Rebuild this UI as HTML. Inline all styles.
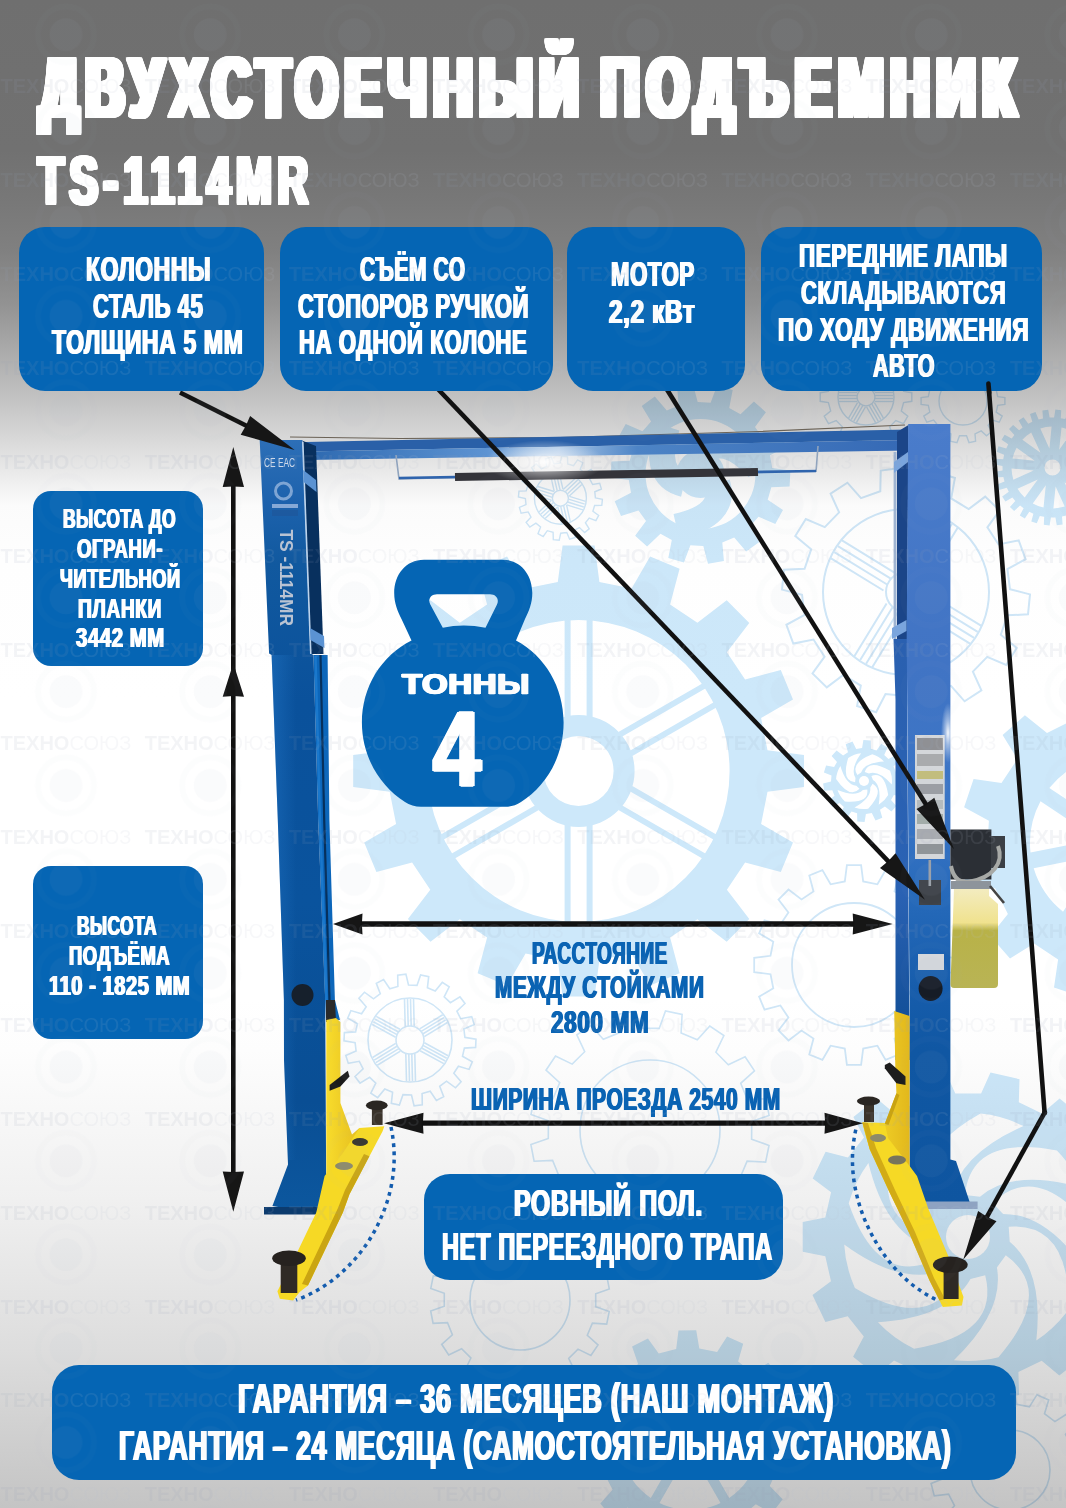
<!DOCTYPE html>
<html lang="ru"><head><meta charset="utf-8"><title>Двухстоечный подъемник TS-1114MR</title>
<style>
html,body{margin:0;padding:0;background:#fff}
body{width:1066px;height:1508px;overflow:hidden;position:relative;font-family:"Liberation Sans",sans-serif}
#pg{position:absolute;left:0;top:0;width:1066px;height:1508px;overflow:hidden;
background:linear-gradient(to bottom,#6f6f6f 0px,#717171 150px,#787878 203px,#808080 250px,#929292 303px,#aaaaaa 350px,#c5c5c5 403px,#dddddd 448px,#fbfbfb 505px,#fefefe 560px,#ffffff 700px,#ffffff 1000px,#fdfdfd 1050px,#f0f0f0 1200px,#dddddd 1350px,#c4c4c4 1508px)}
svg{position:absolute;left:0;top:0}
.bx{position:absolute;background:#0565b4}
.t{position:absolute;white-space:nowrap;line-height:1;font-weight:bold;transform-origin:0 0;paint-order:stroke fill;-webkit-text-stroke-linejoin:miter}
.wm{position:absolute;left:0;top:0;width:1066px;height:1508px;overflow:hidden;font-size:20px;color:#b9c1d0;opacity:.11}
.wm b{color:#97a2b8}
.wm span{position:absolute;white-space:nowrap;line-height:1;font-weight:normal}
</style></head><body><div id="pg">
<svg width="1066" height="1508" viewBox="0 0 1066 1508" style="mix-blend-mode:multiply"><g fill="none" stroke="#cfe6f7" stroke-width="1.4"><path d="M903.6 391.4 L911.8 392.7 L911.8 401.3 L903.6 402.6 L901.3 411.0 L907.8 416.1 L903.5 423.6 L895.8 420.6 L889.6 426.8 L892.6 434.5 L885.1 438.8 L880.0 432.3 L871.6 434.6 L870.3 442.8 L861.7 442.8 L860.4 434.6 L852.0 432.3 L846.9 438.8 L839.4 434.5 L842.4 426.8 L836.2 420.6 L828.5 423.6 L824.2 416.1 L830.7 411.0 L828.4 402.6 L820.2 401.3 L820.2 392.7 L828.4 391.4 L830.7 383.0 L824.2 377.9 L828.5 370.4 L836.2 373.4 L842.4 367.2 L839.4 359.5 L846.9 355.2 L852.0 361.7 L860.4 359.4 L861.7 351.2 L870.3 351.2 L871.6 359.4 L880.0 361.7 L885.1 355.2 L892.6 359.5 L889.6 367.2 L895.8 373.4 L903.5 370.4 L907.8 377.9 L901.3 383.0ZM838.0 397.0a28.0 28.0 0 1 0 56.0 0a28.0 28.0 0 1 0 -56.0 0ZM857.0 397.0a9.0 9.0 0 1 0 18.0 0a9.0 9.0 0 1 0 -18.0 0Z"/><path d="M875.0 392.5L893.0 392.5"/><path d="M875.0 395.5L893.0 395.5"/><path d="M875.0 398.5L893.0 398.5"/><path d="M875.0 401.5L893.0 401.5"/><path d="M874.4 402.5L883.4 418.1"/><path d="M871.8 404.0L880.8 419.6"/><path d="M869.2 405.5L878.2 421.1"/><path d="M866.6 407.0L875.6 422.6"/><path d="M865.4 407.0L856.4 422.6"/><path d="M862.8 405.5L853.8 421.1"/><path d="M860.2 404.0L851.2 419.6"/><path d="M857.6 402.5L848.6 418.1"/><path d="M857.0 401.5L839.0 401.5"/><path d="M857.0 398.5L839.0 398.5"/><path d="M857.0 395.5L839.0 395.5"/><path d="M857.0 392.5L839.0 392.5"/><path d="M857.6 391.5L848.6 375.9"/><path d="M860.2 390.0L851.2 374.4"/><path d="M862.8 388.5L853.8 372.9"/><path d="M865.4 387.0L856.4 371.4"/><path d="M866.6 387.0L875.6 371.4"/><path d="M869.2 388.5L878.2 372.9"/><path d="M871.8 390.0L880.8 374.4"/><path d="M874.4 391.5L883.4 375.9"/></g><path d="M997.7 396.6 L1004.9 397.6 L1004.9 404.4 L997.7 405.4 L996.2 412.1 L1002.2 416.1 L999.2 422.2 L992.4 420.0 L988.1 425.4 L991.8 431.6 L986.5 435.8 L981.2 430.9 L975.0 433.9 L975.6 441.1 L969.0 442.6 L966.5 435.8 L959.5 435.8 L957.0 442.6 L950.4 441.1 L951.0 433.9 L944.8 430.9 L939.5 435.8 L934.2 431.6 L937.9 425.4 L933.6 420.0 L926.8 422.2 L923.8 416.1 L929.8 412.1 L928.3 405.4 L921.1 404.4 L921.1 397.6 L928.3 396.6 L929.8 389.9 L923.8 385.9 L926.8 379.8 L933.6 382.0 L937.9 376.6 L934.2 370.4 L939.5 366.2 L944.8 371.1 L951.0 368.1 L950.4 360.9 L957.0 359.4 L959.5 366.2 L966.5 366.2 L969.0 359.4 L975.6 360.9 L975.0 368.1 L981.2 371.1 L986.5 366.2 L991.8 370.4 L988.1 376.6 L992.4 382.0 L999.2 379.8 L1002.2 385.9 L996.2 389.9ZM939.0 401.0a24.0 24.0 0 1 0 48.0 0a24.0 24.0 0 1 0 -48.0 0Z" fill="none" stroke="#cfe6f7" stroke-width="1.4"/><g fill="none" stroke="#cfe6f7" stroke-width="1.4"><path d="M595.4 497.9 L602.4 499.4 L601.8 505.3 L594.6 505.5 L592.9 511.3 L598.7 515.4 L595.9 520.6 L589.2 518.0 L585.4 522.7 L589.2 528.8 L584.6 532.5 L579.4 527.6 L574.1 530.4 L575.3 537.5 L569.6 539.2 L566.8 532.6 L560.7 533.2 L559.2 540.2 L553.3 539.6 L553.1 532.4 L547.3 530.7 L543.2 536.5 L538.0 533.7 L540.6 527.0 L535.9 523.2 L529.8 527.0 L526.1 522.4 L531.0 517.2 L528.2 511.9 L521.1 513.1 L519.4 507.4 L526.0 504.6 L525.4 498.5 L518.4 497.0 L519.0 491.1 L526.2 490.9 L527.9 485.1 L522.1 481.0 L524.9 475.8 L531.6 478.4 L535.4 473.7 L531.6 467.6 L536.2 463.9 L541.4 468.8 L546.7 466.0 L545.5 458.9 L551.2 457.2 L554.0 463.8 L560.1 463.2 L561.6 456.2 L567.5 456.8 L567.7 464.0 L573.5 465.7 L577.6 459.9 L582.8 462.7 L580.2 469.4 L584.9 473.2 L591.0 469.4 L594.7 474.0 L589.8 479.2 L592.6 484.5 L599.7 483.3 L601.4 489.0 L594.8 491.8ZM534.4 498.2a26.0 26.0 0 1 0 52.0 0a26.0 26.0 0 1 0 -52.0 0ZM552.4 498.2a8.0 8.0 0 1 0 16.0 0a8.0 8.0 0 1 0 -16.0 0Z"/><path d="M569.4 496.3L585.6 501.3"/><path d="M568.5 499.1L584.7 504.2"/><path d="M567.6 502.0L583.8 507.0"/><path d="M566.7 504.9L583.0 509.9"/><path d="M566.6 505.0L570.3 521.6"/><path d="M563.6 505.7L567.4 522.2"/><path d="M560.7 506.3L564.5 522.9"/><path d="M557.8 507.0L561.6 523.6"/><path d="M557.6 506.9L545.1 518.5"/><path d="M555.6 504.7L543.1 516.3"/><path d="M553.5 502.5L541.0 514.1"/><path d="M551.5 500.3L539.0 511.9"/><path d="M551.4 500.1L535.2 495.1"/><path d="M552.3 497.3L536.1 492.2"/><path d="M553.2 494.4L537.0 489.4"/><path d="M554.1 491.5L537.8 486.5"/><path d="M554.2 491.4L550.5 474.8"/><path d="M557.2 490.7L553.4 474.2"/><path d="M560.1 490.1L556.3 473.5"/><path d="M563.0 489.4L559.2 472.8"/><path d="M563.2 489.5L575.7 477.9"/><path d="M565.2 491.7L577.7 480.1"/><path d="M567.3 493.9L579.8 482.3"/><path d="M569.3 496.1L581.8 484.5"/></g><path d="M767.7 499.7 L783.0 509.9 L775.3 524.1 L758.5 516.7 L749.9 526.4 L759.3 542.1 L746.2 551.6 L734.2 537.6 L722.3 542.6 L723.9 560.9 L708.0 563.7 L703.3 545.9 L690.4 545.3 L683.9 562.5 L668.3 558.1 L671.8 540.0 L660.5 533.8 L647.1 546.5 L635.1 535.8 L646.0 521.0 L638.5 510.5 L621.0 516.1 L614.7 501.3 L631.0 492.7 L628.8 480.0 L610.6 477.5 L611.4 461.4 L629.7 460.7 L633.3 448.3 L618.0 438.1 L625.7 423.9 L642.5 431.3 L651.1 421.6 L641.7 405.9 L654.8 396.4 L666.8 410.4 L678.7 405.4 L677.1 387.1 L693.0 384.3 L697.7 402.1 L710.6 402.7 L717.1 385.5 L732.7 389.9 L729.2 408.0 L740.5 414.2 L753.9 401.5 L765.9 412.2 L755.0 427.0 L762.5 437.5 L780.0 431.9 L786.3 446.7 L770.0 455.3 L772.2 468.0 L790.4 470.5 L789.6 486.6 L771.3 487.3ZM645.5 474.0a55.0 55.0 0 1 0 110.0 0a55.0 55.0 0 1 0 -110.0 0Z" fill="#cde8fa" fill-rule="evenodd"/><path d="M717.3 483.2Q727.0 515.2 676.4 526.7" fill="none" stroke="#cde8fa" stroke-width="26.0" stroke-linecap="butt"/><path d="M684.1 484.0Q651.6 476.3 666.9 426.7" fill="none" stroke="#cde8fa" stroke-width="26.0" stroke-linecap="butt"/><path d="M700.0 454.8Q723.0 430.5 758.2 468.5" fill="none" stroke="#cde8fa" stroke-width="26.0" stroke-linecap="butt"/><path d="M676.5 474.0a24.0 24.0 0 1 0 48.0 0a24.0 24.0 0 1 0 -48.0 0Z" fill="#cde8fa" fill-rule="evenodd"/><path d="M1102.5 469.1 L1110.4 470.4 L1109.8 476.2 L1101.8 475.8 L1100.9 480.2 L1108.3 483.2 L1106.5 488.7 L1098.7 486.6 L1096.8 490.7 L1103.4 495.2 L1100.4 500.2 L1093.3 496.4 L1090.6 499.9 L1096.0 505.9 L1091.9 510.1 L1085.9 504.7 L1082.4 507.6 L1086.4 514.6 L1081.5 517.8 L1076.7 511.2 L1072.7 513.2 L1075.0 520.9 L1069.5 522.9 L1066.4 515.5 L1062.0 516.6 L1062.6 524.6 L1056.8 525.3 L1055.4 517.4 L1050.9 517.5 L1049.6 525.4 L1043.8 524.8 L1044.2 516.8 L1039.8 515.9 L1036.8 523.3 L1031.3 521.5 L1033.4 513.7 L1029.3 511.8 L1024.8 518.4 L1019.8 515.4 L1023.6 508.3 L1020.1 505.6 L1014.1 511.0 L1009.9 506.9 L1015.3 500.9 L1012.4 497.4 L1005.4 501.4 L1002.2 496.5 L1008.8 491.7 L1006.8 487.7 L999.1 490.0 L997.1 484.5 L1004.5 481.4 L1003.4 477.0 L995.4 477.6 L994.7 471.8 L1002.6 470.4 L1002.5 465.9 L994.6 464.6 L995.2 458.8 L1003.2 459.2 L1004.1 454.8 L996.7 451.8 L998.5 446.3 L1006.3 448.4 L1008.2 444.3 L1001.6 439.8 L1004.6 434.8 L1011.7 438.6 L1014.4 435.1 L1009.0 429.1 L1013.1 424.9 L1019.1 430.3 L1022.6 427.4 L1018.6 420.4 L1023.5 417.2 L1028.3 423.8 L1032.3 421.8 L1030.0 414.1 L1035.5 412.1 L1038.6 419.5 L1043.0 418.4 L1042.4 410.4 L1048.2 409.7 L1049.6 417.6 L1054.1 417.5 L1055.4 409.6 L1061.2 410.2 L1060.8 418.2 L1065.2 419.1 L1068.2 411.7 L1073.7 413.5 L1071.6 421.3 L1075.7 423.2 L1080.2 416.6 L1085.2 419.6 L1081.4 426.7 L1084.9 429.4 L1090.9 424.0 L1095.1 428.1 L1089.7 434.1 L1092.6 437.6 L1099.6 433.6 L1102.8 438.5 L1096.2 443.3 L1098.2 447.3 L1105.9 445.0 L1107.9 450.5 L1100.5 453.6 L1101.6 458.0 L1109.6 457.4 L1110.3 463.2 L1102.4 464.6ZM1044.5 467.5a8.0 8.0 0 1 0 16.0 0a8.0 8.0 0 1 0 -16.0 0Z" fill="#cde8fa" fill-rule="evenodd"/><path d="M1070.3 474.2L1092.5 476.5A41.0 41.0 0 0 1 1088.4 487.2L1070.3 474.2A19.0 19.0 0 0 0 1070.3 474.2Z" fill="#fff"/><path d="M1064.5 482.2L1082.6 495.3A41.0 41.0 0 0 1 1073.8 502.5L1064.5 482.2A19.0 19.0 0 0 0 1064.5 482.2Z" fill="#fff"/><path d="M1055.5 486.3L1064.7 506.6A41.0 41.0 0 0 1 1053.4 508.5L1055.6 486.2A19.0 19.0 0 0 0 1055.5 486.3Z" fill="#fff"/><path d="M1045.8 485.3L1043.5 507.5A41.0 41.0 0 0 1 1032.8 503.4L1045.8 485.3A19.0 19.0 0 0 0 1045.8 485.3Z" fill="#fff"/><path d="M1037.8 479.5L1024.7 497.6A41.0 41.0 0 0 1 1017.5 488.8L1037.8 479.5A19.0 19.0 0 0 0 1037.8 479.5Z" fill="#fff"/><path d="M1033.7 470.5L1013.4 479.7A41.0 41.0 0 0 1 1011.5 468.4L1033.8 470.6A19.0 19.0 0 0 0 1033.7 470.5Z" fill="#fff"/><path d="M1034.7 460.8L1012.5 458.5A41.0 41.0 0 0 1 1016.6 447.8L1034.7 460.8A19.0 19.0 0 0 0 1034.7 460.8Z" fill="#fff"/><path d="M1040.5 452.8L1022.4 439.7A41.0 41.0 0 0 1 1031.2 432.5L1040.5 452.8A19.0 19.0 0 0 0 1040.5 452.8Z" fill="#fff"/><path d="M1049.5 448.7L1040.3 428.4A41.0 41.0 0 0 1 1051.6 426.5L1049.4 448.8A19.0 19.0 0 0 0 1049.5 448.7Z" fill="#fff"/><path d="M1059.2 449.7L1061.5 427.5A41.0 41.0 0 0 1 1072.2 431.6L1059.2 449.7A19.0 19.0 0 0 0 1059.2 449.7Z" fill="#fff"/><path d="M1067.2 455.5L1080.3 437.4A41.0 41.0 0 0 1 1087.5 446.2L1067.2 455.5A19.0 19.0 0 0 0 1067.2 455.5Z" fill="#fff"/><path d="M1071.3 464.5L1091.6 455.3A41.0 41.0 0 0 1 1093.5 466.6L1071.2 464.4A19.0 19.0 0 0 0 1071.3 464.5Z" fill="#fff"/><g fill="none" stroke="#cfe6f7" stroke-width="2.0"><path d="M1010.0 589.3 L1030.0 594.4 L1028.0 614.3 L1007.4 615.3 L1000.8 634.7 L1016.7 647.9 L1006.2 665.0 L987.2 656.9 L972.9 671.6 L981.4 690.4 L964.6 701.3 L951.0 685.8 L931.7 692.8 L931.3 713.4 L911.4 715.9 L905.9 696.0 L885.5 694.0 L876.1 712.3 L857.1 706.0 L860.8 685.6 L843.3 674.9 L826.8 687.4 L812.5 673.5 L824.6 656.7 L813.5 639.5 L793.3 643.6 L786.4 624.8 L804.6 615.0 L802.0 594.7 L782.0 589.6 L784.0 569.7 L804.6 568.7 L811.2 549.3 L795.3 536.1 L805.8 519.0 L824.8 527.1 L839.1 512.4 L830.6 493.6 L847.4 482.7 L861.0 498.2 L880.3 491.2 L880.7 470.6 L900.6 468.1 L906.1 488.0 L926.5 490.0 L935.9 471.7 L954.9 478.0 L951.2 498.4 L968.7 509.1 L985.2 496.6 L999.5 510.5 L987.4 527.3 L998.5 544.5 L1018.7 540.4 L1025.6 559.2 L1007.4 569.0ZM823.0 592.0a83.0 83.0 0 1 0 166.0 0a83.0 83.0 0 1 0 -166.0 0ZM886.0 592.0a20.0 20.0 0 1 0 40.0 0a20.0 20.0 0 1 0 -40.0 0Z"/><path d="M928.5 593.5L981.4 625.9"/><path d="M924.9 599.5L977.7 631.9"/><path d="M921.2 605.4L974.1 637.8"/><path d="M917.6 611.4L970.4 643.8"/><path d="M904.5 614.5L872.1 667.4"/><path d="M898.5 610.9L866.1 663.7"/><path d="M892.6 607.2L860.2 660.1"/><path d="M886.6 603.6L854.2 656.4"/><path d="M883.5 590.5L830.6 558.1"/><path d="M887.1 584.5L834.3 552.1"/><path d="M890.8 578.6L837.9 546.2"/><path d="M894.4 572.6L841.6 540.2"/><path d="M907.5 569.5L939.9 516.6"/><path d="M913.5 573.1L945.9 520.3"/><path d="M919.4 576.8L951.8 523.9"/><path d="M925.4 580.4L957.8 527.6"/></g><path d="M557.8 582.1 L562.6 545.6 L594.6 545.6 L599.4 582.1 L631.6 588.5 L650.1 556.6 L679.6 568.8 L670.1 604.5 L697.4 622.7 L726.7 600.3 L749.3 622.9 L726.9 652.2 L745.1 679.5 L780.8 670.0 L793.0 699.5 L761.1 718.0 L767.5 750.2 L804.0 755.0 L804.0 787.0 L767.5 791.8 L761.1 824.0 L793.0 842.5 L780.8 872.0 L745.1 862.5 L726.9 889.8 L749.3 919.1 L726.7 941.7 L697.4 919.3 L670.1 937.5 L679.6 973.2 L650.1 985.4 L631.6 953.5 L599.4 959.9 L594.6 996.4 L562.6 996.4 L557.8 959.9 L525.6 953.5 L507.1 985.4 L477.6 973.2 L487.1 937.5 L459.8 919.3 L430.5 941.7 L407.9 919.1 L430.3 889.8 L412.1 862.5 L376.4 872.0 L364.2 842.5 L396.1 824.0 L389.7 791.8 L353.2 787.0 L353.2 755.0 L389.7 750.2 L396.1 718.0 L364.2 699.5 L376.4 670.0 L412.1 679.5 L430.3 652.2 L407.9 622.9 L430.5 600.3 L459.8 622.7 L487.1 604.5 L477.6 568.8 L507.1 556.6 L525.6 588.5ZM427.6 771.0a151.0 151.0 0 1 0 302.0 0a151.0 151.0 0 1 0 -302.0 0Z" fill="#cde8fa" fill-rule="evenodd"/><line x1="630.9" y1="788.5" x2="716.6" y2="838.0" stroke="#cde8fa" stroke-width="6.0"/><line x1="619.9" y1="807.5" x2="705.6" y2="857.0" stroke="#cde8fa" stroke-width="6.0"/><line x1="589.6" y1="825.0" x2="589.6" y2="924.0" stroke="#cde8fa" stroke-width="6.0"/><line x1="567.6" y1="825.0" x2="567.6" y2="924.0" stroke="#cde8fa" stroke-width="6.0"/><line x1="537.3" y1="807.5" x2="451.6" y2="857.0" stroke="#cde8fa" stroke-width="6.0"/><line x1="526.3" y1="788.5" x2="440.6" y2="838.0" stroke="#cde8fa" stroke-width="6.0"/><line x1="526.3" y1="753.5" x2="440.6" y2="704.0" stroke="#cde8fa" stroke-width="6.0"/><line x1="537.3" y1="734.5" x2="451.6" y2="685.0" stroke="#cde8fa" stroke-width="6.0"/><line x1="567.6" y1="717.0" x2="567.6" y2="618.0" stroke="#cde8fa" stroke-width="6.0"/><line x1="589.6" y1="717.0" x2="589.6" y2="618.0" stroke="#cde8fa" stroke-width="6.0"/><line x1="619.9" y1="734.5" x2="705.6" y2="685.0" stroke="#cde8fa" stroke-width="6.0"/><line x1="630.9" y1="753.5" x2="716.6" y2="704.0" stroke="#cde8fa" stroke-width="6.0"/><path d="M522.6 771.0a56.0 56.0 0 1 0 112.0 0a56.0 56.0 0 1 0 -112.0 0ZM543.6 771.0a35.0 35.0 0 1 0 70.0 0a35.0 35.0 0 1 0 -70.0 0Z" fill="#cde8fa" fill-rule="evenodd"/><path d="M896.5 786.4 L904.1 789.6 L901.9 796.6 L893.9 794.9 L891.0 800.0 L896.4 806.1 L891.4 811.5 L884.9 806.5 L880.0 809.8 L882.3 817.7 L875.5 820.4 L871.8 813.1 L865.9 813.9 L864.6 822.0 L857.3 821.4 L857.1 813.3 L851.5 811.5 L846.7 818.2 L840.4 814.5 L843.8 807.1 L839.5 803.1 L832.3 807.0 L828.2 800.9 L834.5 795.7 L832.3 790.2 L824.2 790.7 L823.1 783.4 L831.0 781.5 L831.5 775.6 L823.9 772.4 L826.1 765.4 L834.1 767.1 L837.0 762.0 L831.6 755.9 L836.6 750.5 L843.1 755.5 L848.0 752.2 L845.7 744.3 L852.5 741.6 L856.2 748.9 L862.1 748.1 L863.4 740.0 L870.7 740.6 L870.9 748.7 L876.5 750.5 L881.3 743.8 L887.6 747.5 L884.2 754.9 L888.5 758.9 L895.7 755.0 L899.8 761.1 L893.5 766.3 L895.7 771.8 L903.8 771.3 L904.9 778.6 L897.0 780.5Z" fill="#cde8fa" fill-rule="evenodd"/><path d="M872.6 783.7Q884.8 790.7 868.2 808.7A28.0 28.0 0 0 1 854.5 807.4Q871.5 797.9 870.3 787.4Z" fill="#fff"/><path d="M867.3 789.4Q869.4 803.3 844.9 801.5A28.0 28.0 0 0 1 837.5 790.0Q855.5 797.4 862.9 789.9Z" fill="#fff"/><path d="M859.5 788.8Q850.0 799.1 836.1 778.9A28.0 28.0 0 0 1 840.4 765.9Q845.8 784.6 856.3 785.7Z" fill="#fff"/><path d="M855.1 782.3Q841.1 781.3 848.2 757.9A28.0 28.0 0 0 1 861.1 753.2Q849.9 769.0 855.5 778.0Z" fill="#fff"/><path d="M857.4 774.9Q849.4 763.3 872.3 754.3A28.0 28.0 0 0 1 884.0 761.4Q864.6 762.5 861.1 772.5Z" fill="#fff"/><path d="M864.7 772.0Q868.8 758.6 890.1 770.8A28.0 28.0 0 0 1 891.8 784.4Q878.8 769.9 868.9 773.4Z" fill="#fff"/><path d="M871.4 775.9Q884.5 770.8 888.2 795.0A28.0 28.0 0 0 1 878.7 804.8Q881.9 785.7 873.0 780.1Z" fill="#fff"/><path d="M859.0 781.0a5.0 5.0 0 1 0 10.0 0a5.0 5.0 0 1 0 -10.0 0Z" fill="#fff"/><path d="M995.1 888.2 L966.8 888.9 L960.9 859.8 L987.2 849.4 L988.9 820.7 L964.1 807.2 L973.6 779.0 L1001.5 783.1 L1017.4 759.1 L1002.6 735.0 L1024.9 715.3 L1047.0 732.9 L1072.8 720.1 L1072.1 691.8 L1101.2 685.9 L1111.6 712.2 L1140.3 713.9 L1153.8 689.1 L1182.0 698.6 L1177.9 726.5 L1201.9 742.4 L1226.0 727.6 L1245.7 749.9 L1228.1 772.0 L1240.9 797.8 L1269.2 797.1 L1275.1 826.2 L1248.8 836.6 L1247.1 865.3 L1271.9 878.8 L1262.4 907.0 L1234.5 902.9 L1218.6 926.9 L1233.4 951.0 L1211.1 970.7 L1189.0 953.1 L1163.2 965.9 L1163.9 994.2 L1134.8 1000.1 L1124.4 973.8 L1095.7 972.1 L1082.2 996.9 L1054.0 987.4 L1058.1 959.5 L1034.1 943.6 L1010.0 958.4 L990.3 936.1 L1007.9 914.0ZM1094.0 843.0a24.0 24.0 0 1 0 48.0 0a24.0 24.0 0 1 0 -48.0 0Z" fill="#cde8fa" fill-rule="evenodd"/><path d="M1068.0 845.0L1030.5 852.6A88.0 88.0 0 0 1 1040.5 801.3L1072.4 822.4A50.0 50.0 0 0 0 1068.0 845.0Z" fill="#fff"/><path d="M1081.2 809.1L1049.3 788.0A88.0 88.0 0 0 1 1092.7 758.7L1100.4 796.2A50.0 50.0 0 0 0 1081.2 809.1Z" fill="#fff"/><path d="M1116.0 793.0L1108.4 755.5A88.0 88.0 0 0 1 1159.7 765.5L1138.6 797.4A50.0 50.0 0 0 0 1116.0 793.0Z" fill="#fff"/><path d="M1151.9 806.2L1173.0 774.3A88.0 88.0 0 0 1 1202.3 817.7L1164.8 825.4A50.0 50.0 0 0 0 1151.9 806.2Z" fill="#fff"/><path d="M1168.0 841.0L1205.5 833.4A88.0 88.0 0 0 1 1195.5 884.7L1163.6 863.6A50.0 50.0 0 0 0 1168.0 841.0Z" fill="#fff"/><path d="M1154.8 876.9L1186.7 898.0A88.0 88.0 0 0 1 1143.3 927.3L1135.6 889.8A50.0 50.0 0 0 0 1154.8 876.9Z" fill="#fff"/><path d="M1120.0 893.0L1127.6 930.5A88.0 88.0 0 0 1 1076.3 920.5L1097.4 888.6A50.0 50.0 0 0 0 1120.0 893.0Z" fill="#fff"/><path d="M1084.1 879.8L1063.0 911.7A88.0 88.0 0 0 1 1033.7 868.3L1071.2 860.6A50.0 50.0 0 0 0 1084.1 879.8Z" fill="#fff"/><path d="M937.5 955.8 L953.8 957.9 L953.8 972.1 L937.5 974.2 L934.7 988.4 L948.9 996.6 L943.5 1009.7 L927.6 1005.5 L919.6 1017.5 L929.5 1030.5 L919.5 1040.5 L906.5 1030.6 L894.5 1038.6 L898.7 1054.5 L885.6 1059.9 L877.4 1045.7 L863.2 1048.5 L861.1 1064.8 L846.9 1064.8 L844.8 1048.5 L830.6 1045.7 L822.4 1059.9 L809.3 1054.5 L813.5 1038.6 L801.5 1030.6 L788.5 1040.5 L778.5 1030.5 L788.4 1017.5 L780.4 1005.5 L764.5 1009.7 L759.1 996.6 L773.3 988.4 L770.5 974.2 L754.2 972.1 L754.2 957.9 L770.5 955.8 L773.3 941.6 L759.1 933.4 L764.5 920.3 L780.4 924.5 L788.4 912.5 L778.5 899.5 L788.5 889.5 L801.5 899.4 L813.5 891.4 L809.3 875.5 L822.4 870.1 L830.6 884.3 L844.8 881.5 L846.9 865.2 L861.1 865.2 L863.2 881.5 L877.4 884.3 L885.6 870.1 L898.7 875.5 L894.5 891.4 L906.5 899.4 L919.5 889.5 L929.5 899.5 L919.6 912.5 L927.6 924.5 L943.5 920.3 L948.9 933.4 L934.7 941.6ZM792.0 965.0a62.0 62.0 0 1 0 124.0 0a62.0 62.0 0 1 0 -124.0 0Z" fill="none" stroke="#cfe6f7" stroke-width="1.8"/><path d="M1104.9 1281.7 L1123.3 1295.5 L1110.4 1322.3 L1088.1 1316.5 L1072.0 1336.6 L1082.6 1357.1 L1059.3 1375.6 L1041.7 1360.7 L1018.4 1371.9 L1019.1 1394.9 L990.1 1401.5 L980.7 1380.4 L954.9 1380.4 L945.5 1401.5 L916.5 1394.8 L917.2 1371.8 L894.0 1360.5 L876.4 1375.4 L853.1 1356.8 L863.8 1336.4 L847.7 1316.2 L825.4 1322.0 L812.5 1295.1 L831.0 1281.3 L825.3 1256.2 L802.7 1251.7 L802.7 1221.9 L825.3 1217.5 L831.1 1192.3 L812.7 1178.5 L825.6 1151.7 L847.9 1157.5 L864.0 1137.4 L853.4 1116.9 L876.7 1098.4 L894.3 1113.3 L917.6 1102.1 L916.9 1079.1 L945.9 1072.5 L955.3 1093.6 L981.1 1093.6 L990.5 1072.5 L1019.5 1079.2 L1018.8 1102.2 L1042.0 1113.5 L1059.6 1098.6 L1082.9 1117.2 L1072.2 1137.6 L1088.3 1157.8 L1110.6 1152.0 L1123.5 1178.9 L1105.0 1192.7 L1110.7 1217.8 L1133.3 1222.3 L1133.3 1252.1 L1110.7 1256.5Z" fill="#cde8fa" fill-rule="evenodd"/><path d="M1005.8 1255.3Q1055.5 1291.2 998.5 1357.2A124.0 124.0 0 0 1 953.8 1360.2Q1004.7 1311.5 996.9 1267.5Z" fill="#fff"/><path d="M985.2 1275.3Q1000.2 1334.8 914.1 1348.7A124.0 124.0 0 0 1 877.9 1322.2Q948.2 1317.6 970.5 1278.9Z" fill="#fff"/><path d="M956.6 1277.4Q929.8 1332.6 854.9 1287.9A124.0 124.0 0 0 1 844.2 1244.4Q901.0 1286.0 943.0 1270.7Z" fill="#fff"/><path d="M933.3 1260.6Q877.3 1285.7 848.7 1203.3A124.0 124.0 0 0 1 868.4 1163.1Q885.2 1231.5 927.1 1246.7Z" fill="#fff"/><path d="M926.2 1232.8Q867.2 1216.0 898.3 1134.5A124.0 124.0 0 0 1 939.2 1116.4Q908.1 1179.6 930.4 1218.2Z" fill="#fff"/><path d="M938.7 1206.9Q904.3 1156.1 980.5 1113.6A124.0 124.0 0 0 1 1023.5 1126.1Q959.0 1154.5 951.3 1198.5Z" fill="#fff"/><path d="M964.9 1195.1Q971.2 1134.1 1056.9 1150.5A124.0 124.0 0 0 1 1081.8 1187.7Q1014.2 1168.0 980.0 1196.7Z" fill="#fff"/><path d="M992.6 1202.9Q1036.6 1160.3 1091.7 1227.9A124.0 124.0 0 0 1 1086.8 1272.4Q1047.7 1213.8 1003.1 1213.9Z" fill="#fff"/><path d="M1008.7 1226.7Q1069.9 1222.3 1068.6 1309.5A124.0 124.0 0 0 1 1036.3 1340.5Q1044.0 1270.5 1009.7 1241.8Z" fill="#fff"/><path d="M946.0 1237.0a22.0 22.0 0 1 0 44.0 0a22.0 22.0 0 1 0 -44.0 0Z" fill="#fff"/><g fill="none" stroke="#cfe6f7" stroke-width="1.6"><path d="M464.9 1037.4 L476.0 1039.2 L475.6 1047.4 L464.4 1048.1 L462.5 1056.3 L472.3 1061.8 L469.1 1069.4 L458.4 1066.2 L453.8 1073.3 L461.1 1081.8 L455.5 1087.8 L446.5 1081.2 L439.7 1086.3 L443.7 1096.7 L436.4 1100.5 L430.2 1091.2 L422.1 1093.6 L422.3 1104.8 L414.1 1105.9 L411.5 1095.0 L403.0 1094.6 L399.4 1105.1 L391.3 1103.3 L392.6 1092.2 L384.8 1088.9 L377.7 1097.6 L370.8 1093.1 L375.8 1083.1 L369.6 1077.3 L360.0 1083.1 L355.0 1076.5 L363.1 1068.8 L359.3 1061.3 L348.3 1063.4 L345.8 1055.4 L356.1 1051.0 L355.1 1042.6 L344.0 1040.8 L344.4 1032.6 L355.6 1031.9 L357.5 1023.7 L347.7 1018.2 L350.9 1010.6 L361.6 1013.8 L366.2 1006.7 L358.9 998.2 L364.5 992.2 L373.5 998.8 L380.3 993.7 L376.3 983.3 L383.6 979.5 L389.8 988.8 L397.9 986.4 L397.7 975.2 L405.9 974.1 L408.5 985.0 L417.0 985.4 L420.6 974.9 L428.7 976.7 L427.4 987.8 L435.2 991.1 L442.3 982.4 L449.2 986.9 L444.2 996.9 L450.4 1002.7 L460.0 996.9 L465.0 1003.5 L456.9 1011.2 L460.7 1018.7 L471.7 1016.6 L474.2 1024.6 L463.9 1029.0ZM368.0 1040.0a42.0 42.0 0 1 0 84.0 0a42.0 42.0 0 1 0 -84.0 0ZM396.0 1040.0a14.0 14.0 0 1 0 28.0 0a14.0 14.0 0 1 0 -28.0 0Z"/><path d="M424.4 1042.8L448.1 1055.7"/><path d="M423.0 1045.4L446.7 1058.3"/><path d="M421.6 1048.0L445.3 1061.0"/><path d="M420.1 1050.7L443.8 1063.6"/><path d="M414.8 1053.9L415.5 1080.9"/><path d="M411.8 1054.0L412.5 1081.0"/><path d="M408.8 1054.0L409.5 1081.0"/><path d="M405.8 1054.1L406.5 1081.1"/><path d="M400.4 1051.1L377.3 1065.2"/><path d="M398.8 1048.6L375.8 1062.6"/><path d="M397.3 1046.0L374.2 1060.1"/><path d="M395.7 1043.4L372.6 1057.5"/><path d="M395.6 1037.2L371.9 1024.3"/><path d="M397.0 1034.6L373.3 1021.7"/><path d="M398.4 1032.0L374.7 1019.0"/><path d="M399.9 1029.3L376.2 1016.4"/><path d="M405.2 1026.1L404.5 999.1"/><path d="M408.2 1026.0L407.5 999.0"/><path d="M411.2 1026.0L410.5 999.0"/><path d="M414.2 1025.9L413.5 998.9"/><path d="M419.6 1028.9L442.7 1014.8"/><path d="M421.2 1031.4L444.2 1017.4"/><path d="M422.7 1034.0L445.8 1019.9"/><path d="M424.3 1036.6L447.4 1022.5"/></g><path d="M751.6 1139.2 L769.0 1145.5 L765.6 1162.1 L747.1 1161.1 L740.3 1177.3 L754.0 1189.8 L744.5 1203.9 L727.8 1195.9 L715.3 1208.3 L723.2 1225.1 L709.1 1234.5 L696.7 1220.7 L680.4 1227.4 L681.2 1245.9 L664.6 1249.1 L658.4 1231.7 L640.8 1231.6 L634.5 1249.0 L617.9 1245.6 L618.9 1227.1 L602.7 1220.3 L590.2 1234.0 L576.1 1224.5 L584.1 1207.8 L571.7 1195.3 L554.9 1203.2 L545.5 1189.1 L559.3 1176.7 L552.6 1160.4 L534.1 1161.2 L530.9 1144.6 L548.3 1138.4 L548.4 1120.8 L531.0 1114.5 L534.4 1097.9 L552.9 1098.9 L559.7 1082.7 L546.0 1070.2 L555.5 1056.1 L572.2 1064.1 L584.7 1051.7 L576.8 1034.9 L590.9 1025.5 L603.3 1039.3 L619.6 1032.6 L618.8 1014.1 L635.4 1010.9 L641.6 1028.3 L659.2 1028.4 L665.5 1011.0 L682.1 1014.4 L681.1 1032.9 L697.3 1039.7 L709.8 1026.0 L723.9 1035.5 L715.9 1052.2 L728.3 1064.7 L745.1 1056.8 L754.5 1070.9 L740.7 1083.3 L747.4 1099.6 L765.9 1098.8 L769.1 1115.4 L751.7 1121.6ZM580.0 1130.0a70.0 70.0 0 1 0 140.0 0a70.0 70.0 0 1 0 -140.0 0Z" fill="none" stroke="#cfe6f7" stroke-width="1.6"/><path d="M595.7 1306.8 L609.2 1311.6 L606.7 1324.1 L592.4 1323.2 L587.3 1335.3 L598.0 1344.9 L590.9 1355.4 L578.0 1349.1 L568.7 1358.4 L574.9 1371.3 L564.3 1378.3 L554.8 1367.6 L542.7 1372.5 L543.4 1386.9 L531.0 1389.3 L526.3 1375.7 L513.2 1375.7 L508.4 1389.2 L495.9 1386.7 L496.8 1372.4 L484.7 1367.3 L475.1 1378.0 L464.6 1370.9 L470.9 1358.0 L461.6 1348.7 L448.7 1354.9 L441.7 1344.3 L452.4 1334.8 L447.5 1322.7 L433.1 1323.4 L430.7 1311.0 L444.3 1306.3 L444.3 1293.2 L430.8 1288.4 L433.3 1275.9 L447.6 1276.8 L452.7 1264.7 L442.0 1255.1 L449.1 1244.6 L462.0 1250.9 L471.3 1241.6 L465.1 1228.7 L475.7 1221.7 L485.2 1232.4 L497.3 1227.5 L496.6 1213.1 L509.0 1210.7 L513.7 1224.3 L526.8 1224.3 L531.6 1210.8 L544.1 1213.3 L543.2 1227.6 L555.3 1232.7 L564.9 1222.0 L575.4 1229.1 L569.1 1242.0 L578.4 1251.3 L591.3 1245.1 L598.3 1255.7 L587.6 1265.2 L592.5 1277.3 L606.9 1276.6 L609.3 1289.0 L595.7 1293.7ZM470.0 1300.0a50.0 50.0 0 1 0 100.0 0a50.0 50.0 0 1 0 -100.0 0Z" fill="none" stroke="#cfe6f7" stroke-width="1.6"/><path d="M781.7 1446.8 L799.2 1453.1 L795.7 1470.5 L777.2 1469.4 L769.7 1486.0 L782.7 1499.2 L772.0 1513.3 L755.8 1504.3 L741.9 1516.0 L747.9 1533.5 L732.1 1541.6 L721.3 1526.5 L703.8 1531.0 L701.5 1549.4 L683.8 1549.8 L680.7 1531.5 L662.9 1527.9 L652.9 1543.6 L636.8 1536.3 L641.9 1518.4 L627.5 1507.5 L611.7 1517.2 L600.3 1503.6 L612.6 1489.8 L604.4 1473.7 L585.9 1475.6 L581.5 1458.4 L598.7 1451.3 L598.3 1433.2 L580.8 1426.9 L584.3 1409.5 L602.8 1410.6 L610.3 1394.0 L597.3 1380.8 L608.0 1366.7 L624.2 1375.7 L638.1 1364.0 L632.1 1346.5 L647.9 1338.4 L658.7 1353.5 L676.2 1349.0 L678.5 1330.6 L696.2 1330.2 L699.3 1348.5 L717.1 1352.1 L727.1 1336.4 L743.2 1343.7 L738.1 1361.6 L752.5 1372.5 L768.3 1362.8 L779.7 1376.4 L767.4 1390.2 L775.6 1406.3 L794.1 1404.4 L798.5 1421.6 L781.3 1428.7ZM620.0 1440.0a70.0 70.0 0 1 0 140.0 0a70.0 70.0 0 1 0 -140.0 0Z" fill="#cde8fa" fill-rule="evenodd"/><line x1="714.0" y1="1440.0" x2="762.0" y2="1440.0" stroke="#cde8fa" stroke-width="10.0"/><line x1="702.0" y1="1460.8" x2="726.0" y2="1502.4" stroke="#cde8fa" stroke-width="10.0"/><line x1="678.0" y1="1460.8" x2="654.0" y2="1502.4" stroke="#cde8fa" stroke-width="10.0"/><line x1="666.0" y1="1440.0" x2="618.0" y2="1440.0" stroke="#cde8fa" stroke-width="10.0"/><line x1="678.0" y1="1419.2" x2="654.0" y2="1377.6" stroke="#cde8fa" stroke-width="10.0"/><line x1="702.0" y1="1419.2" x2="726.0" y2="1377.6" stroke="#cde8fa" stroke-width="10.0"/><path d="M664.0 1440.0a26.0 26.0 0 1 0 52.0 0a26.0 26.0 0 1 0 -52.0 0ZM678.0 1440.0a12.0 12.0 0 1 0 24.0 0a12.0 12.0 0 1 0 -24.0 0Z" fill="#cde8fa" fill-rule="evenodd"/><path d="M1075.8 1474.9 L1089.4 1479.5 L1086.9 1492.2 L1072.5 1491.1 L1067.2 1503.0 L1077.4 1513.0 L1069.6 1523.3 L1057.2 1516.2 L1047.2 1524.5 L1052.1 1538.0 L1040.6 1543.9 L1032.5 1532.1 L1019.9 1535.3 L1018.4 1549.6 L1005.5 1549.9 L1003.3 1535.7 L990.6 1533.1 L983.0 1545.3 L971.3 1540.0 L975.5 1526.3 L965.1 1518.4 L953.0 1526.2 L944.7 1516.3 L954.5 1505.7 L948.6 1494.1 L934.3 1495.9 L931.1 1483.4 L944.5 1478.1 L944.2 1465.1 L930.6 1460.5 L933.1 1447.8 L947.5 1448.9 L952.8 1437.0 L942.6 1427.0 L950.4 1416.7 L962.8 1423.8 L972.8 1415.5 L967.9 1402.0 L979.4 1396.1 L987.5 1407.9 L1000.1 1404.7 L1001.6 1390.4 L1014.5 1390.1 L1016.7 1404.3 L1029.4 1406.9 L1037.0 1394.7 L1048.7 1400.0 L1044.5 1413.7 L1054.9 1421.6 L1067.0 1413.8 L1075.3 1423.7 L1065.5 1434.3 L1071.4 1445.9 L1085.7 1444.1 L1088.9 1456.6 L1075.5 1461.9ZM970.0 1470.0a40.0 40.0 0 1 0 80.0 0a40.0 40.0 0 1 0 -80.0 0Z" fill="none" stroke="#cfe6f7" stroke-width="1.6"/></svg>
<svg width="1066" height="1508" viewBox="0 0 1066 1508"><defs>
<linearGradient id="lcol" x1="0" y1="0" x2="0" y2="1"><stop offset="0" stop-color="#2d6fb7"/><stop offset="0.08" stop-color="#1d62ad"/><stop offset="0.16" stop-color="#11599f"/><stop offset="0.34" stop-color="#0a519b"/><stop offset="0.6" stop-color="#0a539d"/><stop offset="0.86" stop-color="#094e94"/><stop offset="1" stop-color="#0c579e"/></linearGradient>
<linearGradient id="rcol" x1="0" y1="0" x2="0" y2="1"><stop offset="0" stop-color="#4a7ccb"/><stop offset="0.3" stop-color="#4174c4"/><stop offset="0.5" stop-color="#3a75c6"/><stop offset="0.62" stop-color="#2468b8"/><stop offset="0.72" stop-color="#175dac"/><stop offset="0.8" stop-color="#1057a3"/><stop offset="1" stop-color="#0e55a0"/></linearGradient>
<linearGradient id="beam" x1="0" y1="0" x2="1" y2="0"><stop offset="0" stop-color="#2d69b0"/><stop offset="0.3" stop-color="#5d93d2"/><stop offset="0.42" stop-color="#a9c6e6"/><stop offset="0.55" stop-color="#4d84c6"/><stop offset="1" stop-color="#3569b5"/></linearGradient>
<linearGradient id="yel" x1="0" y1="0" x2="1" y2="0"><stop offset="0" stop-color="#f8dc2c"/><stop offset="1" stop-color="#e2b81c"/></linearGradient>
<linearGradient id="oil" x1="0" y1="0" x2="0" y2="1"><stop offset="0" stop-color="#f3ecc0"/><stop offset="0.34" stop-color="#f0e28e"/><stop offset="0.42" stop-color="#b8b248"/><stop offset="1" stop-color="#b9b455"/></linearGradient>
<linearGradient id="rside" x1="0" y1="0" x2="0" y2="1"><stop offset="0" stop-color="#2a60b0"/><stop offset="0.6" stop-color="#2a62b4"/><stop offset="1" stop-color="#0c4a90"/></linearGradient><linearGradient id="lhl" x1="0" y1="0" x2="1" y2="0"><stop offset="0" stop-color="#2f8ae0" stop-opacity="0.30"/><stop offset="0.45" stop-color="#2f8ae0" stop-opacity="0"/><stop offset="1" stop-color="#000" stop-opacity="0"/></linearGradient><radialGradient id="flare"><stop offset="0" stop-color="#fff" stop-opacity="0.95"/><stop offset="0.4" stop-color="#fff" stop-opacity="0.5"/><stop offset="1" stop-color="#fff" stop-opacity="0"/></radialGradient>
</defs><polyline points="290,437 400,438.5 560,437.5 760,431.5 905,425" fill="none" stroke="#6b6256" stroke-width="1.2"/><polygon points="306.0,442.0 908.0,429.5 908.0,440.0 306.0,451.5" fill="#2a60a8"/><polygon points="306.0,451.5 908.0,440.0 908.0,450.5 306.0,460.0" fill="url(#beam)"/><polyline points="396,455 399,479 455,477.5" fill="none" stroke="#8fa3bd" stroke-width="1.6"/><polyline points="818,446 816,472" fill="none" stroke="#8fa3bd" stroke-width="1.6"/><line x1="399" y1="478" x2="816" y2="471" stroke="#2f64ad" stroke-width="2.6"/><line x1="455" y1="477" x2="758" y2="472" stroke="#34343a" stroke-width="8"/><ellipse cx="545" cy="462" rx="60" ry="22" fill="url(#flare)"/><polygon points="303.0,441.0 316.0,446.0 323.5,654.0 311.0,654.0" fill="#08305e"/><polygon points="313.5,655.0 327.6,655.0 329.4,820.0 334.9,1000.0 340.0,1020.0 326.0,1020.0 325.2,1000.0 318.2,820.0" fill="#0c66ba"/><polyline points="320.5,655 324.2,820 329.5,1000 333,1020" fill="none" stroke="#06305c" stroke-width="2.2"/><polygon points="259.7,440.0 302.5,440.0 310.5,653.6 313.5,655.0 318.2,820.0 325.2,1000.0 326.3,1209.0 290.0,1209.0 272.4,1206.0 288.0,1164.5 284.0,1060.0 283.9,1000.0 277.8,820.0 271.6,655.0 269.1,653.6" fill="url(#lcol)"/><polygon points="271.6,655.0 313.5,655.0 318.2,820.0 325.2,1000.0 326.3,1160.0 288.0,1160.0 284.0,1060.0 283.9,1000.0 277.8,820.0" fill="url(#lhl)"/><polyline points="302.8,442 310.8,654" fill="none" stroke="#bcd3ec" stroke-width="1.6"/><polyline points="315.5,656 320,820 326.5,1000" fill="none" stroke="#1a78cc" stroke-width="2.4"/><polygon points="303.2,470.0 316.0,480.0 316.5,492.0 303.6,482.0" fill="#5b93d3"/><polygon points="310.0,628.0 324.0,636.0 324.4,648.0 310.4,640.0" fill="#5b93d3"/><polygon points="264.0,1207.0 318.0,1207.0 316.3,1214.5 264.0,1214.5" fill="#0c3b6e"/><ellipse cx="302.5" cy="995" rx="11" ry="11" fill="#16202c"/><text x="0" y="0" transform="translate(279.8,529.5) rotate(90)" font-family="Liberation Sans,sans-serif" font-weight="bold" font-size="17.5" fill="#b9c3d3" textLength="96.5" lengthAdjust="spacingAndGlyphs">TS -1114MR</text><text x="264" y="467" font-family="Liberation Sans,sans-serif" font-size="12" fill="#cdd9ea" textLength="31" lengthAdjust="spacingAndGlyphs">CE EAC</text><circle cx="283.5" cy="491" r="8" fill="none" stroke="#7ea5d4" stroke-width="3"/><rect x="272" y="504" width="26" height="4" fill="#86a9d6"/><rect x="272" y="510" width="26" height="6" fill="#1f5597" opacity="0.6"/><polygon points="326.0,1000.0 335.0,1000.0 336.0,1022.0 326.0,1022.0" fill="#2a2a2a"/><polygon points="326.3,1020.0 336.0,1018.0 340.4,1022.0 340.4,1103.0 352.0,1134.6 359.4,1128.0 366.0,1160.0 346.0,1176.0 326.3,1178.0" fill="url(#yel)"/><polygon points="329.6,1084.9 347.8,1070.8 349.5,1076.6 340.4,1086.5 329.6,1090.7" fill="#1b1b1b"/><polygon points="359.4,1128.0 384.3,1126.3 382.6,1131.3 369.4,1156.2 349.5,1194.3 342.9,1212.5 308.0,1285.5 299.7,1292.1 293.1,1300.4 279.8,1298.8 277.4,1291.3 296.4,1254.0 316.3,1212.5 324.6,1176.0 342.9,1152.9 356.1,1133.0" fill="#f6d925"/><polygon points="369.4,1156.2 349.5,1194.3 342.9,1212.5 308.0,1285.5 302.0,1284.0 338.0,1208.0 345.0,1190.0 364.0,1154.0" fill="#caa512"/><ellipse cx="344" cy="1166" rx="9" ry="4" fill="#8d8a6a"/><ellipse cx="360" cy="1142" rx="8" ry="4" fill="#3b3a34"/><rect x="371.9" y="1106" width="10.7" height="19" fill="#3a332b"/><ellipse cx="376.8" cy="1105.4" rx="10.9" ry="4.8" fill="#2a2622"/><rect x="280.7" y="1260" width="16.6" height="33" fill="#2f2a25"/><ellipse cx="289" cy="1258.3" rx="16.8" ry="7.8" fill="#26221f"/><path d="M391 1127 C398 1160 393 1192 380 1220 C366 1252 336 1286 296 1300" fill="none" stroke="#135cae" stroke-width="3.5" stroke-dasharray="3.8 4.4"/><polygon points="897.0,432.0 908.5,425.0 907.0,639.0 897.0,639.0" fill="#1b4588"/><polygon points="893.6,452.0 896.5,452.0 896.5,639.0 893.6,639.0" fill="#9fb4d2"/><polygon points="893.5,639.0 907.0,639.0 907.0,700.0 909.6,1060.0 895.5,1060.0 895.5,700.0" fill="url(#rside)"/><polygon points="908.2,424.0 950.4,424.0 950.4,1159.5 956.0,1161.0 971.0,1206.0 922.0,1206.0 909.6,1180.0 909.6,1000.0 907.2,700.0 906.7,639.0" fill="url(#rcol)"/><polygon points="894.0,462.0 908.0,452.0 908.0,462.0 894.0,473.0" fill="#7aa5dd"/><polygon points="892.0,628.0 906.5,620.0 906.5,631.0 892.0,639.0" fill="#7aa5dd"/><polygon points="923.0,1201.5 977.6,1201.5 977.6,1209.0 923.0,1209.0" fill="#8ea3c2"/><rect x="915" y="735" width="29.7" height="124" fill="#d4d7da"/><rect x="917" y="738" width="26" height="12" fill="#8f9094"/><rect x="917" y="754" width="26" height="12" fill="#a9abad"/><rect x="917" y="771" width="26" height="8" fill="#c4be7a"/><rect x="917" y="784" width="26" height="10" fill="#9a9da2"/><rect x="917" y="800" width="26" height="9" fill="#b4babd"/><rect x="917" y="814" width="26" height="10" fill="#a2aca9"/><rect x="917" y="829" width="26" height="10" fill="#a8abb0"/><rect x="917" y="844" width="26" height="10" fill="#8f9498"/><rect x="919" y="880" width="22" height="25" fill="#3d4147"/><rect x="928.5" y="860" width="2.6" height="26" fill="#9aa0a8"/><rect x="918" y="954" width="26" height="16" fill="#d5d8dc"/><ellipse cx="930.6" cy="988.5" rx="12" ry="12.5" fill="#161c26"/><ellipse cx="948" cy="733" rx="7" ry="30" fill="url(#flare)"/><rect x="950.4" y="829.5" width="41" height="50" fill="#2b2f35"/><rect x="991" y="836" width="14" height="32" fill="#3b3f45"/><path d="M998 846 C1004 862 994 878 968 882 C958 883 953 876 951 866" fill="none" stroke="#a7a9a6" stroke-width="4"/><rect x="951" y="881" width="40" height="8" fill="#8d949b"/><line x1="990" y1="886" x2="1004" y2="903" stroke="#444" stroke-width="2.6"/><path d="M954 889 L989 889 L989 896 L998 904 L998 984 Q998 988 994 988 L954 988 Q950.5 988 950.5 984 Z" fill="url(#oil)"/><polygon points="894.2,1011.0 909.6,1016.0 909.6,1168.0 889.7,1166.0 869.8,1149.5 864.9,1133.0 862.4,1123.0 884.8,1123.8 896.4,1093.2 895.3,1067.0" fill="url(#yel)"/><polygon points="896.4,1093.2 899.5,1095.0 888.5,1125.0 884.8,1123.8" fill="#c9a312"/><polygon points="884.8,1065.0 889.7,1062.5 905.5,1076.6 905.5,1084.9 896.4,1083.2 884.8,1068.3" fill="#1d1d1d"/><polygon points="862.4,1122.2 884.8,1123.0 888.0,1138.0 909.6,1166.1 917.0,1176.0 928.5,1209.2 935.5,1225.8 949.5,1259.0 963.5,1297.1 961.9,1305.4 942.8,1307.1 939.5,1300.4 929.5,1280.5 909.6,1234.1 889.7,1192.7 869.8,1149.5" fill="#f6d925"/><polygon points="862.4,1122.2 869.8,1149.5 889.7,1192.7 909.6,1234.1 929.5,1280.5 939.5,1300.4 945.0,1299.0 934.0,1278.0 915.0,1232.0 895.0,1190.0 876.0,1148.0 868.0,1123.0" fill="#d2ab16"/><ellipse cx="878" cy="1138" rx="8" ry="4" fill="#8d8a6a"/><ellipse cx="897" cy="1160" rx="9" ry="4.5" fill="#77745c"/><rect x="864" y="1102" width="10" height="20" fill="#3a332b"/><ellipse cx="868.5" cy="1101.1" rx="11.6" ry="4.5" fill="#2a2622"/><rect x="943.6" y="1267" width="15" height="32" fill="#2f2a25"/><ellipse cx="950.3" cy="1264.8" rx="17.4" ry="8.3" fill="#26221f"/><path d="M855.8 1129.6 C849 1160 853 1190 864 1218 C878 1252 902 1284 938 1300.5" fill="none" stroke="#135cae" stroke-width="3.5" stroke-dasharray="3.8 4.4"/><path fill="#0565b4" fill-rule="evenodd" d="M424 559.7 L502.5 559.7 C521 559.7 532.3 575 532.3 593 C532.3 603 529 611 525 619 L516 640.5 C545 656 563.6 687 563.6 722.6 C563.6 757 546 786 521 802 Q514 806.8 505 806.8 L421 806.8 Q412 806.8 405 802 C380 786 361.9 757 361.9 722.6 C361.9 687 381 656 411.5 640.5 L401.5 619 C397.5 611 394.2 603 394.2 593 C394.2 575 405.5 559.7 424 559.7Z M437 594.2 L490 594.2 C496 594.2 499.5 599 497 604.5 L485.5 627.7 Q463.5 623.5 442.8 627.7 L430.3 604.5 C427.5 599 431 594.2 437 594.2Z"/><g fill="#161616"><polygon points="233.3,447.1 244.0,487.1 233.3,486.5 222.7,487.1"/><polygon points="233.3,1211.8 222.7,1171.5 233.3,1172.1 244.0,1171.5"/><line x1="233.3" y1="1173.1" x2="233.3" y2="485.5" stroke="#111" stroke-width="4.6"/><polygon points="233.3,663.2 244.0,696.7 233.3,696.1 222.7,696.7"/><polygon points="333.0,924.0 362.5,913.5 361.9,924.0 362.5,934.5"/><polygon points="892.7,924.0 852.7,934.5 853.3,924.0 852.7,913.5"/><line x1="854.3" y1="924.0" x2="360.9" y2="924.0" stroke="#111" stroke-width="5.3"/><polygon points="384.0,1123.2 423.5,1112.7 422.9,1123.2 423.5,1133.7"/><polygon points="863.0,1123.2 824.5,1133.7 825.1,1123.2 824.5,1112.7"/><line x1="826.1" y1="1123.2" x2="421.9" y2="1123.2" stroke="#111" stroke-width="5.3"/><polygon points="294.6,449.9 240.7,434.7 246.0,425.5 250.1,415.9"/><line x1="180.0" y1="392.5" x2="246.9" y2="426.0" stroke="#111" stroke-width="4.6"/><polygon points="925.0,899.8 880.0,868.1 888.1,861.2 895.5,853.3"/><line x1="435.0" y1="386.0" x2="888.8" y2="861.9" stroke="#111" stroke-width="4.6"/><polygon points="954.0,849.2 916.5,809.0 925.7,803.9 934.3,797.8"/><line x1="666.0" y1="388.0" x2="926.2" y2="804.8" stroke="#111" stroke-width="4.6"/><polyline points="988.3,382 1044.6,1112.6" fill="none" stroke="#111" stroke-width="4.6" stroke-linecap="round"/><polygon points="963.3,1259.5 978.1,1211.1 987.0,1216.7 996.5,1221.3"/><line x1="1044.6" y1="1112.6" x2="986.5" y2="1217.6" stroke="#111" stroke-width="4.6"/><circle cx="1044.6" cy="1112.6" r="2.6"/></g></svg>
<div class="bx" style="left:19.1px;top:227.0px;width:244.6px;height:163.7px;border-radius:26px"></div><div class="bx" style="left:280.1px;top:227.0px;width:272.8px;height:163.7px;border-radius:26px"></div><div class="bx" style="left:566.9px;top:227.0px;width:178.1px;height:163.7px;border-radius:26px"></div><div class="bx" style="left:761.1px;top:227.0px;width:280.7px;height:163.7px;border-radius:26px"></div><div class="bx" style="left:32.9px;top:491.1px;width:170.3px;height:174.5px;border-radius:18px"></div><div class="bx" style="left:32.9px;top:865.5px;width:170.3px;height:173.6px;border-radius:18px"></div><div class="bx" style="left:424.4px;top:1174.4px;width:359.1px;height:105.8px;border-radius:26px"></div><div class="bx" style="left:51.5px;top:1365.0px;width:964.0px;height:115.3px;border-radius:27px"></div>
<svg width="1066" height="1508" viewBox="0 0 1066 1508"><line x1="988.4" y1="383.5" x2="989.2" y2="393" stroke="#111" stroke-width="4.6" stroke-linecap="round"/></svg>
<span class="t ttl" style="left:40.21px;top:44.36px;font-size:86.05px;transform:scaleX(0.6194);color:#fff;letter-spacing:12.50px;word-spacing:-12.00px;text-shadow:0.0px -1.2px 0 #fff,1.0px -1.2px 0 #fff,-1.0px -1.2px 0 #fff,2.0px -1.2px 0 #fff,-2.0px -1.2px 0 #fff,3.0px -1.2px 0 #fff,-3.0px -1.2px 0 #fff,4.0px -1.2px 0 #fff,-4.0px -1.2px 0 #fff,5.0px -1.2px 0 #fff,-5.0px -1.2px 0 #fff,6.0px -1.2px 0 #fff,-6.0px -1.2px 0 #fff,6.7px -1.2px 0 #fff,-6.7px -1.2px 0 #fff,1.0px 0.0px 0 #fff,-1.0px 0.0px 0 #fff,2.0px 0.0px 0 #fff,-2.0px 0.0px 0 #fff,3.0px 0.0px 0 #fff,-3.0px 0.0px 0 #fff,4.0px 0.0px 0 #fff,-4.0px 0.0px 0 #fff,5.0px 0.0px 0 #fff,-5.0px 0.0px 0 #fff,6.0px 0.0px 0 #fff,-6.0px 0.0px 0 #fff,6.7px 0.0px 0 #fff,-6.7px 0.0px 0 #fff,0.0px 1.2px 0 #fff,1.0px 1.2px 0 #fff,-1.0px 1.2px 0 #fff,2.0px 1.2px 0 #fff,-2.0px 1.2px 0 #fff,3.0px 1.2px 0 #fff,-3.0px 1.2px 0 #fff,4.0px 1.2px 0 #fff,-4.0px 1.2px 0 #fff,5.0px 1.2px 0 #fff,-5.0px 1.2px 0 #fff,6.0px 1.2px 0 #fff,-6.0px 1.2px 0 #fff,6.7px 1.2px 0 #fff,-6.7px 1.2px 0 #fff;">ДВУХСТОЕЧНЫЙ ПОДЪЕМНИК</span>
<span class="t ttl" style="left:37.90px;top:147.35px;font-size:68.46px;transform:scaleX(0.6172);color:#fff;letter-spacing:9.50px;text-shadow:0.0px -1.0px 0 #fff,1.0px -1.0px 0 #fff,-1.0px -1.0px 0 #fff,2.0px -1.0px 0 #fff,-2.0px -1.0px 0 #fff,3.0px -1.0px 0 #fff,-3.0px -1.0px 0 #fff,3.8px -1.0px 0 #fff,-3.8px -1.0px 0 #fff,1.0px 0.0px 0 #fff,-1.0px 0.0px 0 #fff,2.0px 0.0px 0 #fff,-2.0px 0.0px 0 #fff,3.0px 0.0px 0 #fff,-3.0px 0.0px 0 #fff,3.8px 0.0px 0 #fff,-3.8px 0.0px 0 #fff,0.0px 1.0px 0 #fff,1.0px 1.0px 0 #fff,-1.0px 1.0px 0 #fff,2.0px 1.0px 0 #fff,-2.0px 1.0px 0 #fff,3.0px 1.0px 0 #fff,-3.0px 1.0px 0 #fff,3.8px 1.0px 0 #fff,-3.8px 1.0px 0 #fff;">TS-1114MR</span>
<span class="t " style="left:85.63px;top:251.92px;font-size:34.59px;transform:scaleX(0.6609);color:#fff;letter-spacing:1.04px;text-shadow:1.3px 0 0 #fff,-1.3px 0 0 #fff;">КОЛОННЫ</span>
<span class="t " style="left:93.04px;top:288.89px;font-size:34.16px;transform:scaleX(0.6435);color:#fff;letter-spacing:1.02px;text-shadow:1.3px 0 0 #fff,-1.3px 0 0 #fff;">СТАЛЬ 45</span>
<span class="t " style="left:52.06px;top:325.06px;font-size:34.30px;transform:scaleX(0.6679);color:#fff;letter-spacing:1.03px;text-shadow:1.3px 0 0 #fff,-1.3px 0 0 #fff;">ТОЛЩИНА 5 ММ</span>
<span class="t " style="left:360.23px;top:251.92px;font-size:34.59px;transform:scaleX(0.6064);color:#fff;letter-spacing:1.04px;text-shadow:1.3px 0 0 #fff,-1.3px 0 0 #fff;">СЪЁМ СО</span>
<span class="t " style="left:297.64px;top:288.89px;font-size:34.16px;transform:scaleX(0.6429);color:#fff;letter-spacing:1.02px;text-shadow:1.3px 0 0 #fff,-1.3px 0 0 #fff;">СТОПОРОВ РУЧКОЙ</span>
<span class="t " style="left:299.05px;top:325.06px;font-size:34.30px;transform:scaleX(0.6415);color:#fff;letter-spacing:1.03px;text-shadow:1.3px 0 0 #fff,-1.3px 0 0 #fff;">НА ОДНОЙ КОЛОНЕ</span>
<span class="t " style="left:610.65px;top:257.16px;font-size:34.30px;transform:scaleX(0.6448);color:#fff;letter-spacing:1.03px;text-shadow:1.3px 0 0 #fff,-1.3px 0 0 #fff;">МОТОР</span>
<span class="t " style="left:609.45px;top:294.11px;font-size:34.01px;transform:scaleX(0.7100);color:#fff;letter-spacing:1.02px;text-shadow:1.3px 0 0 #fff,-1.3px 0 0 #fff;">2,2 кВт</span>
<span class="t " style="left:798.84px;top:239.46px;font-size:33.72px;transform:scaleX(0.6649);color:#fff;letter-spacing:1.01px;text-shadow:1.3px 0 0 #fff,-1.3px 0 0 #fff;">ПЕРЕДНИЕ ЛАПЫ</span>
<span class="t " style="left:800.94px;top:276.28px;font-size:33.58px;transform:scaleX(0.6575);color:#fff;letter-spacing:1.01px;text-shadow:1.3px 0 0 #fff,-1.3px 0 0 #fff;">СКЛАДЫВАЮТСЯ</span>
<span class="t " style="left:777.74px;top:313.00px;font-size:33.43px;transform:scaleX(0.6729);color:#fff;letter-spacing:1.00px;text-shadow:1.3px 0 0 #fff,-1.3px 0 0 #fff;">ПО ХОДУ ДВИЖЕНИЯ</span>
<span class="t " style="left:872.67px;top:349.48px;font-size:33.58px;transform:scaleX(0.6396);color:#fff;letter-spacing:1.01px;text-shadow:1.3px 0 0 #fff,-1.3px 0 0 #fff;">АВТО</span>
<span class="t " style="left:63.16px;top:505.05px;font-size:28.05px;transform:scaleX(0.6218);color:#fff;letter-spacing:0.84px;text-shadow:1.1px 0 0 #fff,-1.1px 0 0 #fff;">ВЫСОТА ДО</span>
<span class="t " style="left:76.82px;top:534.98px;font-size:27.91px;transform:scaleX(0.6664);color:#fff;letter-spacing:0.84px;text-shadow:1.0px 0 0 #fff,-1.0px 0 0 #fff;">ОГРАНИ-</span>
<span class="t " style="left:59.63px;top:564.88px;font-size:27.91px;transform:scaleX(0.6543);color:#fff;letter-spacing:0.84px;text-shadow:1.0px 0 0 #fff,-1.0px 0 0 #fff;">ЧИТЕЛЬНОЙ</span>
<span class="t " style="left:78.12px;top:594.68px;font-size:27.91px;transform:scaleX(0.6876);color:#fff;letter-spacing:0.84px;text-shadow:1.0px 0 0 #fff,-1.0px 0 0 #fff;">ПЛАНКИ</span>
<span class="t " style="left:75.54px;top:624.48px;font-size:27.91px;transform:scaleX(0.7271);color:#fff;letter-spacing:0.84px;text-shadow:1.0px 0 0 #fff,-1.0px 0 0 #fff;">3442 ММ</span>
<span class="t " style="left:76.97px;top:911.75px;font-size:28.05px;transform:scaleX(0.6167);color:#fff;letter-spacing:0.84px;text-shadow:1.1px 0 0 #fff,-1.1px 0 0 #fff;">ВЫСОТА</span>
<span class="t " style="left:68.74px;top:941.65px;font-size:28.05px;transform:scaleX(0.6558);color:#fff;letter-spacing:0.84px;text-shadow:1.1px 0 0 #fff,-1.1px 0 0 #fff;">ПОДЪЁМА</span>
<span class="t " style="left:48.80px;top:971.75px;font-size:28.05px;transform:scaleX(0.7129);color:#fff;letter-spacing:0.84px;text-shadow:1.1px 0 0 #fff,-1.1px 0 0 #fff;">110 - 1825 ММ</span>
<span class="t " style="left:531.53px;top:937.96px;font-size:30.52px;transform:scaleX(0.6207);color:#0a63b3;letter-spacing:0.92px;text-shadow:1.1px 0 0 #0a63b3,-1.1px 0 0 #0a63b3;">РАССТОЯНИЕ</span>
<span class="t " style="left:495.08px;top:972.06px;font-size:30.52px;transform:scaleX(0.6788);color:#0a63b3;letter-spacing:0.92px;text-shadow:1.1px 0 0 #0a63b3,-1.1px 0 0 #0a63b3;">МЕЖДУ СТОЙКАМИ</span>
<span class="t " style="left:550.94px;top:1006.66px;font-size:30.52px;transform:scaleX(0.7358);color:#0a63b3;letter-spacing:0.92px;text-shadow:1.1px 0 0 #0a63b3,-1.1px 0 0 #0a63b3;">2800 ММ</span>
<span class="t " style="left:471.48px;top:1084.26px;font-size:30.52px;transform:scaleX(0.6852);color:#0a63b3;letter-spacing:0.92px;text-shadow:1.1px 0 0 #0a63b3,-1.1px 0 0 #0a63b3;">ШИРИНА ПРОЕЗДА 2540 ММ</span>
<span class="t " style="left:513.58px;top:1185.36px;font-size:37.50px;transform:scaleX(0.6604);color:#fff;letter-spacing:1.12px;text-shadow:1.4px 0 0 #fff,-1.4px 0 0 #fff;">РОВНЫЙ ПОЛ.</span>
<span class="t " style="left:442.01px;top:1227.84px;font-size:38.23px;transform:scaleX(0.6145);color:#fff;letter-spacing:1.15px;text-shadow:1.4px 0 0 #fff,-1.4px 0 0 #fff;">НЕТ ПЕРЕЕЗДНОГО ТРАПА</span>
<span class="t " style="left:237.62px;top:1378.14px;font-size:42.01px;transform:scaleX(0.6434);color:#fff;letter-spacing:1.26px;text-shadow:1.6px 0 0 #fff,-1.6px 0 0 #fff;">ГАРАНТИЯ – 36 МЕСЯЦЕВ (НАШ МОНТАЖ)</span>
<span class="t " style="left:118.74px;top:1425.37px;font-size:41.86px;transform:scaleX(0.6281);color:#fff;letter-spacing:1.26px;text-shadow:1.6px 0 0 #fff,-1.6px 0 0 #fff;">ГАРАНТИЯ – 24 МЕСЯЦА (САМОСТОЯТЕЛЬНАЯ УСТАНОВКА)</span>
<span class="t kb" style="left:401.62px;top:668.78px;font-size:29.80px;transform:scaleX(1.1051);color:#fff;-webkit-text-stroke:0.6px #fff;letter-spacing:0.60px;text-shadow:1.1px 0 0 #fff,-1.1px 0 0 #fff;">ТОННЫ</span>
<span class="t kb" style="left:433.07px;top:695.62px;font-size:106.83px;transform:scaleX(0.8081);color:#fff;-webkit-text-stroke:1.5px #fff;text-shadow:2.0px 0 0 #fff,-2.0px 0 0 #fff,2.5px 0 0 #fff,-2.5px 0 0 #fff;">4</span>
<div class="wm"><span style="left:0.5px;top:76.4px"><b>ТЕХНО</b>СОЮЗ</span><span style="left:144.7px;top:76.4px"><b>ТЕХНО</b>СОЮЗ</span><span style="left:288.9px;top:76.4px"><b>ТЕХНО</b>СОЮЗ</span><span style="left:433.1px;top:76.4px"><b>ТЕХНО</b>СОЮЗ</span><span style="left:577.3px;top:76.4px"><b>ТЕХНО</b>СОЮЗ</span><span style="left:721.5px;top:76.4px"><b>ТЕХНО</b>СОЮЗ</span><span style="left:865.7px;top:76.4px"><b>ТЕХНО</b>СОЮЗ</span><span style="left:1009.9px;top:76.4px"><b>ТЕХНО</b>СОЮЗ</span><span style="left:0.5px;top:170.2px"><b>ТЕХНО</b>СОЮЗ</span><span style="left:144.7px;top:170.2px"><b>ТЕХНО</b>СОЮЗ</span><span style="left:288.9px;top:170.2px"><b>ТЕХНО</b>СОЮЗ</span><span style="left:433.1px;top:170.2px"><b>ТЕХНО</b>СОЮЗ</span><span style="left:577.3px;top:170.2px"><b>ТЕХНО</b>СОЮЗ</span><span style="left:721.5px;top:170.2px"><b>ТЕХНО</b>СОЮЗ</span><span style="left:865.7px;top:170.2px"><b>ТЕХНО</b>СОЮЗ</span><span style="left:1009.9px;top:170.2px"><b>ТЕХНО</b>СОЮЗ</span><span style="left:0.5px;top:264.1px"><b>ТЕХНО</b>СОЮЗ</span><span style="left:144.7px;top:264.1px"><b>ТЕХНО</b>СОЮЗ</span><span style="left:288.9px;top:264.1px"><b>ТЕХНО</b>СОЮЗ</span><span style="left:433.1px;top:264.1px"><b>ТЕХНО</b>СОЮЗ</span><span style="left:577.3px;top:264.1px"><b>ТЕХНО</b>СОЮЗ</span><span style="left:721.5px;top:264.1px"><b>ТЕХНО</b>СОЮЗ</span><span style="left:865.7px;top:264.1px"><b>ТЕХНО</b>СОЮЗ</span><span style="left:1009.9px;top:264.1px"><b>ТЕХНО</b>СОЮЗ</span><span style="left:0.5px;top:357.9px"><b>ТЕХНО</b>СОЮЗ</span><span style="left:144.7px;top:357.9px"><b>ТЕХНО</b>СОЮЗ</span><span style="left:288.9px;top:357.9px"><b>ТЕХНО</b>СОЮЗ</span><span style="left:433.1px;top:357.9px"><b>ТЕХНО</b>СОЮЗ</span><span style="left:577.3px;top:357.9px"><b>ТЕХНО</b>СОЮЗ</span><span style="left:721.5px;top:357.9px"><b>ТЕХНО</b>СОЮЗ</span><span style="left:865.7px;top:357.9px"><b>ТЕХНО</b>СОЮЗ</span><span style="left:1009.9px;top:357.9px"><b>ТЕХНО</b>СОЮЗ</span><span style="left:0.5px;top:451.8px"><b>ТЕХНО</b>СОЮЗ</span><span style="left:144.7px;top:451.8px"><b>ТЕХНО</b>СОЮЗ</span><span style="left:288.9px;top:451.8px"><b>ТЕХНО</b>СОЮЗ</span><span style="left:433.1px;top:451.8px"><b>ТЕХНО</b>СОЮЗ</span><span style="left:577.3px;top:451.8px"><b>ТЕХНО</b>СОЮЗ</span><span style="left:721.5px;top:451.8px"><b>ТЕХНО</b>СОЮЗ</span><span style="left:865.7px;top:451.8px"><b>ТЕХНО</b>СОЮЗ</span><span style="left:1009.9px;top:451.8px"><b>ТЕХНО</b>СОЮЗ</span><span style="left:0.5px;top:545.6px"><b>ТЕХНО</b>СОЮЗ</span><span style="left:144.7px;top:545.6px"><b>ТЕХНО</b>СОЮЗ</span><span style="left:288.9px;top:545.6px"><b>ТЕХНО</b>СОЮЗ</span><span style="left:433.1px;top:545.6px"><b>ТЕХНО</b>СОЮЗ</span><span style="left:577.3px;top:545.6px"><b>ТЕХНО</b>СОЮЗ</span><span style="left:721.5px;top:545.6px"><b>ТЕХНО</b>СОЮЗ</span><span style="left:865.7px;top:545.6px"><b>ТЕХНО</b>СОЮЗ</span><span style="left:1009.9px;top:545.6px"><b>ТЕХНО</b>СОЮЗ</span><span style="left:0.5px;top:639.5px"><b>ТЕХНО</b>СОЮЗ</span><span style="left:144.7px;top:639.5px"><b>ТЕХНО</b>СОЮЗ</span><span style="left:288.9px;top:639.5px"><b>ТЕХНО</b>СОЮЗ</span><span style="left:433.1px;top:639.5px"><b>ТЕХНО</b>СОЮЗ</span><span style="left:577.3px;top:639.5px"><b>ТЕХНО</b>СОЮЗ</span><span style="left:721.5px;top:639.5px"><b>ТЕХНО</b>СОЮЗ</span><span style="left:865.7px;top:639.5px"><b>ТЕХНО</b>СОЮЗ</span><span style="left:1009.9px;top:639.5px"><b>ТЕХНО</b>СОЮЗ</span><span style="left:0.5px;top:733.3px"><b>ТЕХНО</b>СОЮЗ</span><span style="left:144.7px;top:733.3px"><b>ТЕХНО</b>СОЮЗ</span><span style="left:288.9px;top:733.3px"><b>ТЕХНО</b>СОЮЗ</span><span style="left:433.1px;top:733.3px"><b>ТЕХНО</b>СОЮЗ</span><span style="left:577.3px;top:733.3px"><b>ТЕХНО</b>СОЮЗ</span><span style="left:721.5px;top:733.3px"><b>ТЕХНО</b>СОЮЗ</span><span style="left:865.7px;top:733.3px"><b>ТЕХНО</b>СОЮЗ</span><span style="left:1009.9px;top:733.3px"><b>ТЕХНО</b>СОЮЗ</span><span style="left:0.5px;top:827.2px"><b>ТЕХНО</b>СОЮЗ</span><span style="left:144.7px;top:827.2px"><b>ТЕХНО</b>СОЮЗ</span><span style="left:288.9px;top:827.2px"><b>ТЕХНО</b>СОЮЗ</span><span style="left:433.1px;top:827.2px"><b>ТЕХНО</b>СОЮЗ</span><span style="left:577.3px;top:827.2px"><b>ТЕХНО</b>СОЮЗ</span><span style="left:721.5px;top:827.2px"><b>ТЕХНО</b>СОЮЗ</span><span style="left:865.7px;top:827.2px"><b>ТЕХНО</b>СОЮЗ</span><span style="left:1009.9px;top:827.2px"><b>ТЕХНО</b>СОЮЗ</span><span style="left:0.5px;top:921.0px"><b>ТЕХНО</b>СОЮЗ</span><span style="left:144.7px;top:921.0px"><b>ТЕХНО</b>СОЮЗ</span><span style="left:288.9px;top:921.0px"><b>ТЕХНО</b>СОЮЗ</span><span style="left:433.1px;top:921.0px"><b>ТЕХНО</b>СОЮЗ</span><span style="left:577.3px;top:921.0px"><b>ТЕХНО</b>СОЮЗ</span><span style="left:721.5px;top:921.0px"><b>ТЕХНО</b>СОЮЗ</span><span style="left:865.7px;top:921.0px"><b>ТЕХНО</b>СОЮЗ</span><span style="left:1009.9px;top:921.0px"><b>ТЕХНО</b>СОЮЗ</span><span style="left:0.5px;top:1014.9px"><b>ТЕХНО</b>СОЮЗ</span><span style="left:144.7px;top:1014.9px"><b>ТЕХНО</b>СОЮЗ</span><span style="left:288.9px;top:1014.9px"><b>ТЕХНО</b>СОЮЗ</span><span style="left:433.1px;top:1014.9px"><b>ТЕХНО</b>СОЮЗ</span><span style="left:577.3px;top:1014.9px"><b>ТЕХНО</b>СОЮЗ</span><span style="left:721.5px;top:1014.9px"><b>ТЕХНО</b>СОЮЗ</span><span style="left:865.7px;top:1014.9px"><b>ТЕХНО</b>СОЮЗ</span><span style="left:1009.9px;top:1014.9px"><b>ТЕХНО</b>СОЮЗ</span><span style="left:0.5px;top:1108.8px"><b>ТЕХНО</b>СОЮЗ</span><span style="left:144.7px;top:1108.8px"><b>ТЕХНО</b>СОЮЗ</span><span style="left:288.9px;top:1108.8px"><b>ТЕХНО</b>СОЮЗ</span><span style="left:433.1px;top:1108.8px"><b>ТЕХНО</b>СОЮЗ</span><span style="left:577.3px;top:1108.8px"><b>ТЕХНО</b>СОЮЗ</span><span style="left:721.5px;top:1108.8px"><b>ТЕХНО</b>СОЮЗ</span><span style="left:865.7px;top:1108.8px"><b>ТЕХНО</b>СОЮЗ</span><span style="left:1009.9px;top:1108.8px"><b>ТЕХНО</b>СОЮЗ</span><span style="left:0.5px;top:1202.6px"><b>ТЕХНО</b>СОЮЗ</span><span style="left:144.7px;top:1202.6px"><b>ТЕХНО</b>СОЮЗ</span><span style="left:288.9px;top:1202.6px"><b>ТЕХНО</b>СОЮЗ</span><span style="left:433.1px;top:1202.6px"><b>ТЕХНО</b>СОЮЗ</span><span style="left:577.3px;top:1202.6px"><b>ТЕХНО</b>СОЮЗ</span><span style="left:721.5px;top:1202.6px"><b>ТЕХНО</b>СОЮЗ</span><span style="left:865.7px;top:1202.6px"><b>ТЕХНО</b>СОЮЗ</span><span style="left:1009.9px;top:1202.6px"><b>ТЕХНО</b>СОЮЗ</span><span style="left:0.5px;top:1296.5px"><b>ТЕХНО</b>СОЮЗ</span><span style="left:144.7px;top:1296.5px"><b>ТЕХНО</b>СОЮЗ</span><span style="left:288.9px;top:1296.5px"><b>ТЕХНО</b>СОЮЗ</span><span style="left:433.1px;top:1296.5px"><b>ТЕХНО</b>СОЮЗ</span><span style="left:577.3px;top:1296.5px"><b>ТЕХНО</b>СОЮЗ</span><span style="left:721.5px;top:1296.5px"><b>ТЕХНО</b>СОЮЗ</span><span style="left:865.7px;top:1296.5px"><b>ТЕХНО</b>СОЮЗ</span><span style="left:1009.9px;top:1296.5px"><b>ТЕХНО</b>СОЮЗ</span><span style="left:0.5px;top:1390.3px"><b>ТЕХНО</b>СОЮЗ</span><span style="left:144.7px;top:1390.3px"><b>ТЕХНО</b>СОЮЗ</span><span style="left:288.9px;top:1390.3px"><b>ТЕХНО</b>СОЮЗ</span><span style="left:433.1px;top:1390.3px"><b>ТЕХНО</b>СОЮЗ</span><span style="left:577.3px;top:1390.3px"><b>ТЕХНО</b>СОЮЗ</span><span style="left:721.5px;top:1390.3px"><b>ТЕХНО</b>СОЮЗ</span><span style="left:865.7px;top:1390.3px"><b>ТЕХНО</b>СОЮЗ</span><span style="left:1009.9px;top:1390.3px"><b>ТЕХНО</b>СОЮЗ</span><span style="left:0.5px;top:1484.2px"><b>ТЕХНО</b>СОЮЗ</span><span style="left:144.7px;top:1484.2px"><b>ТЕХНО</b>СОЮЗ</span><span style="left:288.9px;top:1484.2px"><b>ТЕХНО</b>СОЮЗ</span><span style="left:433.1px;top:1484.2px"><b>ТЕХНО</b>СОЮЗ</span><span style="left:577.3px;top:1484.2px"><b>ТЕХНО</b>СОЮЗ</span><span style="left:721.5px;top:1484.2px"><b>ТЕХНО</b>СОЮЗ</span><span style="left:865.7px;top:1484.2px"><b>ТЕХНО</b>СОЮЗ</span><span style="left:1009.9px;top:1484.2px"><b>ТЕХНО</b>СОЮЗ</span><span style="left:0.5px;top:1578.0px"><b>ТЕХНО</b>СОЮЗ</span><span style="left:144.7px;top:1578.0px"><b>ТЕХНО</b>СОЮЗ</span><span style="left:288.9px;top:1578.0px"><b>ТЕХНО</b>СОЮЗ</span><span style="left:433.1px;top:1578.0px"><b>ТЕХНО</b>СОЮЗ</span><span style="left:577.3px;top:1578.0px"><b>ТЕХНО</b>СОЮЗ</span><span style="left:721.5px;top:1578.0px"><b>ТЕХНО</b>СОЮЗ</span><span style="left:865.7px;top:1578.0px"><b>ТЕХНО</b>СОЮЗ</span><span style="left:1009.9px;top:1578.0px"><b>ТЕХНО</b>СОЮЗ</span><svg width="1066" height="1508" viewBox="0 0 1066 1508"><defs><pattern id="gl" x="0" y="0" width="144.2" height="93.85" patternUnits="userSpaceOnUse"><circle cx="66" cy="34.6" r="16.5" fill="#a9b3c6" opacity="0.5"/><circle cx="66" cy="34.6" r="28" fill="none" stroke="#a9b3c6" stroke-width="6" opacity="0.25"/></pattern></defs><rect x="0" y="0" width="1066" height="1508" fill="url(#gl)"/></svg></div>
</div></body></html>
